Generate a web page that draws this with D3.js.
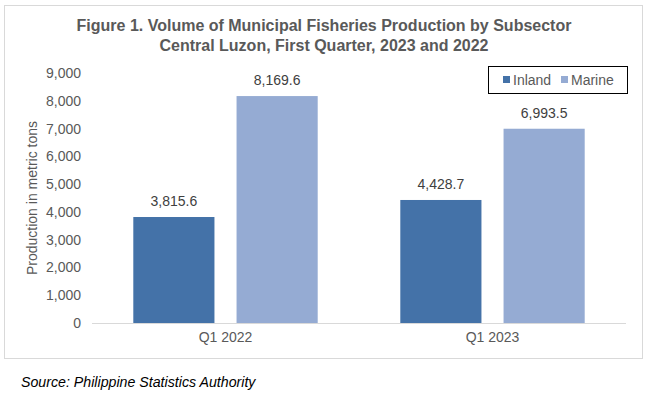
<!DOCTYPE html>
<html lang="en">
<head>
  <meta charset="UTF-8">
  <title>Municipal Fisheries Production</title>
  <script src="https://d3js.org/d3.v7.min.js"></script>
  <style>
    body { margin: 0; background: #fff; }
    svg { font-family: "Liberation Sans", Arial, sans-serif; }
  </style>
</head>
<body>
  <div id="chart"></div>
  <script>
    // data
    const periods = ["Q1 2022", "Q1 2023"];
    const subsectors = ["Inland", "Marine"];
    const inland = [3815.6, 4428.7];
    const marine = [8169.6, 6993.5];
    const yTicks = [0, 1000, 2000, 3000, 4000, 5000, 6000, 7000, 8000, 9000];
    const colors = ["#4472a8", "#95abd3"];

    const width = 648, height = 398;
    const margin = { top: 73, right: 22, bottom: 75, left: 92 };

    const svg = d3.select("#chart").append("svg")
      .attr("width", width)
      .attr("height", height);

    // outer frame
    svg.append("rect")
      .attr("x", 4.5).attr("y", 5.5)
      .attr("width", 638).attr("height", 353)
      .attr("fill", "none").attr("stroke", "#d9d9d9");

    // title
    const title = svg.append("text")
      .attr("text-anchor", "middle")
      .attr("fill", "#595959")
      .attr("font-size", 16)
      .attr("font-weight", "bold");
    title.append("tspan").attr("x", 324).attr("y", 31)
      .text("Figure 1. Volume of Municipal Fisheries Production by Subsector");
    title.append("tspan").attr("x", 324).attr("y", 51)
      .text("Central Luzon, First Quarter, 2023 and 2022");

    const x0 = d3.scaleBand()
      .domain(periods)
      .range([margin.left, width - margin.right - 0]);

    const x1 = d3.scaleBand()
      .domain(subsectors)
      .range([0, x0.bandwidth()])
      .paddingInner(0.214)
      .paddingOuter(0.4);

    const y = d3.scaleLinear()
      .domain([0, 9000])
      .range([323, margin.top]);

    // y axis labels
    const yAxis = svg.append("g")
      .attr("transform", `translate(${margin.left - 8},0)`)
      .call(d3.axisLeft(y).tickValues(yTicks).tickSize(0).tickFormat(d3.format(",")));
    yAxis.select(".domain").remove();
    yAxis.selectAll("text")
      .attr("fill", "#595959")
      .attr("font-size", 14)
      .attr("font-family", "Liberation Sans, Arial, sans-serif");

    // baseline
    svg.append("line")
      .attr("x1", margin.left).attr("x2", width - margin.right)
      .attr("y1", y(0) + 0.5).attr("y2", y(0) + 0.5)
      .attr("stroke", "#d9d9d9");

    // x axis labels
    const xAxis = svg.append("g")
      .attr("transform", `translate(0,${y(0) + 6})`)
      .call(d3.axisBottom(x0).tickSize(0));
    xAxis.select(".domain").remove();
    xAxis.selectAll("text")
      .attr("fill", "#595959")
      .attr("font-size", 14)
      .attr("font-family", "Liberation Sans, Arial, sans-serif");

    // y axis title
    svg.append("text")
      .attr("transform", `translate(37,${(y(0) + y(9000)) / 2}) rotate(-90)`)
      .attr("text-anchor", "middle")
      .attr("fill", "#595959")
      .attr("font-size", 14)
      .text("Production in metric tons");

    const rows = periods.map((p, i) => ({
      period: p,
      values: [
        { key: "Inland", value: inland[i], color: colors[0] },
        { key: "Marine", value: marine[i], color: colors[1] }
      ]
    }));

    const groups = svg.selectAll(".group")
      .data(rows)
      .enter().append("g")
      .attr("class", "group")
      .attr("transform", d => `translate(${x0(d.period)},0)`);

    groups.selectAll("rect")
      .data(d => d.values)
      .enter().append("rect")
      .attr("x", d => x1(d.key))
      .attr("y", d => y(d.value))
      .attr("width", x1.bandwidth())
      .attr("height", d => y(0) - y(d.value))
      .attr("fill", d => d.color);

    groups.selectAll(".lbl")
      .data(d => d.values)
      .enter().append("text")
      .attr("class", "lbl")
      .attr("x", d => x1(d.key) + x1.bandwidth() / 2)
      .attr("y", d => y(d.value) - 11)
      .attr("text-anchor", "middle")
      .attr("fill", "#404040")
      .attr("font-size", 14)
      .text(d => d3.format(",.1f")(d.value));

    // legend
    const legend = svg.append("g").attr("transform", "translate(488,66)");
    legend.append("rect")
      .attr("x", 0.5).attr("y", 0.5)
      .attr("width", 139).attr("height", 27)
      .attr("fill", "#fff").attr("stroke", "#000");
    const items = legend.selectAll(".item")
      .data(subsectors)
      .enter().append("g")
      .attr("transform", (d, i) => `translate(${[15, 73][i]},0)`);
    items.append("rect")
      .attr("x", 0).attr("y", 10)
      .attr("width", 7).attr("height", 7)
      .attr("fill", (d, i) => colors[i]);
    items.append("text")
      .attr("x", 10).attr("y", 19)
      .attr("fill", "#595959")
      .attr("font-size", 14)
      .text(d => d);

    // source note
    svg.append("text")
      .attr("x", 21).attr("y", 387)
      .attr("font-size", 14.2)
      .attr("font-style", "italic")
      .attr("fill", "#000")
      .text("Source: Philippine Statistics Authority");
  </script>
</body>
</html>
